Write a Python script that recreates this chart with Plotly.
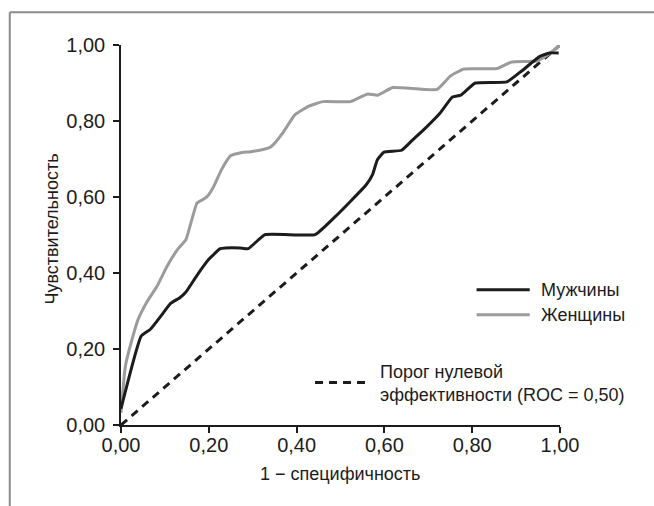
import plotly.graph_objects as go

# ROC curve points (1 - specificity, sensitivity)
men_fpr = [0.0, 0.046, 0.067, 0.091, 0.113, 0.134, 0.148, 0.172, 0.200, 0.226, 0.238,
           0.271, 0.290, 0.328, 0.442, 0.485, 0.523, 0.559, 0.573, 0.584, 0.599,
           0.639, 0.665, 0.694, 0.727, 0.755, 0.774, 0.807, 0.879, 0.912, 0.954,
           0.976, 0.997]
men_tpr = [0.043, 0.234, 0.252, 0.287, 0.320, 0.335, 0.350, 0.392, 0.436, 0.464, 0.466,
           0.466, 0.464, 0.501, 0.501, 0.545, 0.589, 0.633, 0.659, 0.698, 0.718,
           0.723, 0.751, 0.782, 0.821, 0.863, 0.868, 0.900, 0.903, 0.931, 0.970,
           0.979, 0.979]

women_fpr = [0.0, 0.010, 0.025, 0.039, 0.058, 0.082, 0.105, 0.129, 0.148, 0.173, 0.186,
             0.196, 0.210, 0.229, 0.250, 0.271, 0.300, 0.338, 0.347, 0.371, 0.396,
             0.428, 0.460, 0.523, 0.542, 0.562, 0.585, 0.619, 0.720, 0.750, 0.781,
             0.857, 0.889, 0.948, 0.973, 1.0]
women_tpr = [0.032, 0.155, 0.225, 0.278, 0.322, 0.365, 0.418, 0.462, 0.488, 0.584, 0.593,
             0.601, 0.625, 0.672, 0.709, 0.716, 0.720, 0.730, 0.738, 0.773, 0.816,
             0.839, 0.851, 0.851, 0.861, 0.871, 0.868, 0.888, 0.883, 0.918, 0.937,
             0.938, 0.955, 0.958, 0.975, 1.0]

ref_fpr = [0.0, 1.0]
ref_tpr = [0.0, 1.0]

tick_vals = [0.0, 0.2, 0.4, 0.6, 0.8, 1.0]

legend_men = "Мужчины"
legend_women = "Женщины"
legend_ref = "Порог нулевой<br>эффективности (ROC = 0,50)"
x_title = "1 − специфичность"
y_title = "Чувствительность"

BLACK = "#1c1c1c"
GRAY = "#9b9b9b"
FRAME = "#8c8c8c"
FONT = "Liberation Sans, Arial, sans-serif"

fig = go.Figure()
fig.add_trace(go.Scatter(x=ref_fpr, y=ref_tpr, mode="lines",
                         line=dict(color=BLACK, width=3, dash="8px,6px")))
fig.add_trace(go.Scatter(x=women_fpr, y=women_tpr, mode="lines",
                         line=dict(color=GRAY, width=3, shape="spline", smoothing=0.4)))
fig.add_trace(go.Scatter(x=men_fpr, y=men_tpr, mode="lines",
                         line=dict(color=BLACK, width=3, shape="spline", smoothing=0.4)))

axis_common = dict(
    range=[0, 1], tickvals=tick_vals, tickformat=".2f",
    showgrid=False, zeroline=False, showline=True, linecolor=BLACK, linewidth=1.5,
    ticks="outside", ticklen=6, tickwidth=1.5, tickcolor=BLACK,
    tickfont=dict(family=FONT, size=20, color=BLACK),
)

fig.update_layout(
    width=654, height=506,
    margin=dict(l=120.5, r=93.5, t=44.7, b=80.5),
    paper_bgcolor="white", plot_bgcolor="white",
    separators=", ",
    showlegend=False,
    xaxis=dict(**axis_common, ticklabelstandoff=-5),
    yaxis=dict(**axis_common, ticklabelstandoff=4),
    font=dict(family=FONT, size=18, color=BLACK),
)

# outer frame (top and left edges)
fig.add_shape(type="line", xref="paper", yref="paper", x0=-0.2534, x1=1.3, y0=1.086, y1=1.086,
              line=dict(color=FRAME, width=2))
fig.add_shape(type="line", xref="paper", yref="paper", x0=-0.2534, x1=-0.2534, y0=1.086, y1=-0.25,
              line=dict(color=FRAME, width=2))

# legend samples
fig.add_shape(type="line", xref="paper", yref="paper", x0=0.810, x1=0.931, y0=0.356, y1=0.356,
              line=dict(color=BLACK, width=3))
fig.add_shape(type="line", xref="paper", yref="paper", x0=0.810, x1=0.931, y0=0.290, y1=0.290,
              line=dict(color=GRAY, width=3))
fig.add_shape(type="line", xref="paper", yref="paper", x0=0.442, x1=0.5625, y0=0.112, y1=0.112,
              line=dict(color=BLACK, width=3, dash="8px,6px"))

fig.add_annotation(xref="paper", yref="paper", x=0.953, y=0.356, text=legend_men,
                   showarrow=False, xanchor="left", yanchor="middle", font=dict(size=18))
fig.add_annotation(xref="paper", yref="paper", x=0.953, y=0.290, text=legend_women,
                   showarrow=False, xanchor="left", yanchor="middle", font=dict(size=18))
fig.add_annotation(xref="paper", yref="paper", x=0.586, y=0.109, text=legend_ref,
                   showarrow=False, xanchor="left", yanchor="middle", align="left",
                   font=dict(size=18))

# axis titles
fig.add_annotation(xref="paper", yref="paper", x=0.499, y=-0.13, text=x_title,
                   showarrow=False, xanchor="center", yanchor="middle", font=dict(size=18))
fig.add_annotation(xref="paper", yref="paper", x=-0.158, y=0.516, text=y_title,
                   showarrow=False, xanchor="center", yanchor="middle", textangle=-90,
                   font=dict(size=18))

fig.write_html("out.html")
